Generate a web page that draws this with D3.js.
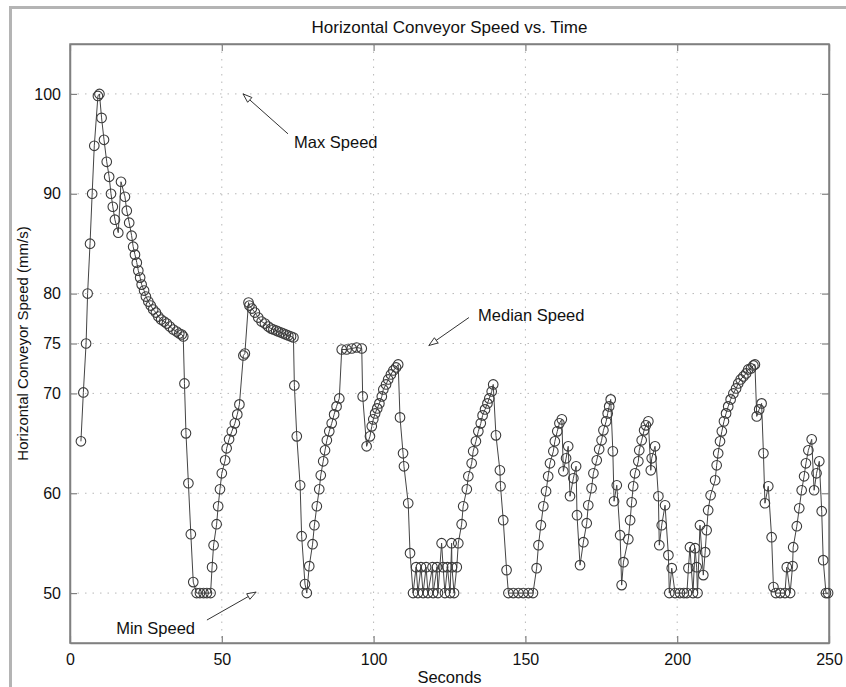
<!DOCTYPE html>
<html>
<head>
<meta charset="utf-8">
<script src="https://cdn.jsdelivr.net/npm/d3@7"></script>
<style>
  html, body { margin: 0; padding: 0; background: #fff; }
  svg { display: block; }
  text { font-family: "Liberation Sans", Arial, Helvetica, sans-serif; fill: #111; }
</style>
</head>
<body>
<svg id="chart" width="846" height="687"></svg>
<script>
// ---------- data ----------
const seconds = [
  3.6, 4.4, 5.3, 5.8, 6.6, 7.3, 8.0, 9.2, 9.7,
  10.4, 11.2, 12.1, 12.9, 13.5, 14.1, 14.8, 15.9,
  16.8, 18.1, 18.7, 19.5, 20.3, 20.8, 21.4, 22.0, 22.5, 23.1, 23.6, 24.4, 25.0, 25.8, 26.6, 27.4, 28.3, 29.1,
  30.0, 31.0, 31.9, 32.9, 34.0, 35.1, 36.0, 36.8, 37.3,
  37.7, 38.2, 39.0, 39.8, 40.6,
  41.7, 42.8, 44.0, 45.1, 46.3,
  46.8, 47.3, 48.3, 48.8, 49.4, 50.0, 51.1, 51.6, 52.4, 53.3, 54.3, 55.1, 55.8,
  57.1, 57.6, 58.8, 59.1,
  59.9, 60.9, 62.0, 63.1, 64.2, 65.3, 66.2, 67.0, 67.9, 68.6, 69.5, 70.3, 71.1, 71.9, 72.8, 73.6,
  73.9, 74.7, 75.8, 76.3, 77.4, 78.0,
  78.8, 79.9, 80.5, 81.3, 82.1, 82.6, 83.4, 84.0, 84.6, 85.4, 86.2, 87.0, 87.8, 88.7,
  89.5, 91.1, 92.8, 94.4, 96.1,
  96.4, 97.7,
  98.8, 99.4, 99.9, 100.5, 101.2, 101.9, 102.7, 103.2, 104.1, 104.8, 105.7, 106.5, 107.4, 108.1,
  108.7, 109.7, 110.0, 111.4, 112.0,
  113.0, 114.0, 114.6, 115.6, 116.3, 117.3, 117.9, 119.4, 119.6, 120.9, 121.2, 122.4, 122.9, 123.5, 124.3,
  125.2, 125.7, 125.8, 126.5, 127.4, 127.9,
  129.0, 129.5, 130.7, 131.2, 132.3, 132.8, 133.7, 134.5, 135.3, 135.9, 136.7, 137.5, 138.1, 138.9, 139.4,
  140.3, 141.6, 141.8, 142.7, 143.8,
  144.4, 146.0, 147.7, 149.3, 151.0, 152.5,
  153.7, 154.3, 155.1, 155.9, 156.8, 157.5, 158.1, 159.2, 159.7, 160.5, 161.2, 162.0,
  162.5, 163.4, 164.1, 164.7, 165.8, 166.7, 167.0, 168.0, 169.1,
  170.2, 170.7, 171.8, 172.4, 173.5, 174.3, 175.1, 175.7, 176.6, 177.1, 177.6, 178.1,
  178.8, 179.2, 180.1, 181.2, 181.7, 182.3,
  183.9, 184.5, 185.0, 185.5, 186.1, 187.2, 187.5, 188.3, 189.1, 189.7, 190.5,
  191.3, 191.6, 192.7, 193.8, 194.1, 194.9, 196.0, 197.1, 197.4, 198.2,
  199.3, 200.9, 202.2, 203.2, 203.7, 204.2, 205.2, 205.9, 206.4, 206.7, 207.5, 208.6, 209.2, 209.7,
  210.2, 211.0, 212.5, 213.0, 213.5, 214.1, 214.7, 215.4, 216.1, 216.8, 217.6, 218.5, 219.4, 220.1, 220.9,
  221.8, 222.7, 223.4, 224.3, 225.1, 225.6,
  226.2, 227.0, 227.8, 228.4, 228.9, 230.0, 231.1, 231.7,
  232.5, 233.9, 235.5, 236.1, 237.2, 238.0,
  238.2, 239.4, 240.2, 241.0, 241.8, 242.4, 243.2, 244.3,
  245.1, 245.9, 246.8, 247.6, 248.1, 249.0, 249.7
];
const speed = [
  65.2, 70.1, 75.0, 80.0, 85.0, 90.0, 94.8, 99.8, 100.0,
  97.6, 95.4, 93.2, 91.7, 90.0, 88.7, 87.4, 86.1,
  91.2, 89.7, 88.3, 87.1, 85.8, 84.7, 83.9, 83.1, 82.3, 81.6, 80.9, 80.3, 79.7, 79.2, 78.8, 78.4, 78.1, 77.7,
  77.4, 77.2, 77.0, 76.7, 76.4, 76.2, 76.0, 75.9, 75.7,
  71.0, 66.0, 61.0, 55.9, 51.1,
  50, 50, 50, 50, 50,
  52.6, 54.8, 56.9, 58.7, 60.4, 62.0, 63.3, 64.5, 65.4, 66.2, 67.0, 67.9, 68.9,
  73.8, 74.0, 79.1, 78.8,
  78.5, 78.1, 77.6, 77.2, 77.0, 76.7, 76.5, 76.4, 76.3, 76.2, 76.1, 76.0, 75.9, 75.8, 75.7, 75.6,
  70.8, 65.7, 60.8, 55.7, 50.9, 50.0,
  52.7, 54.9, 56.8, 58.7, 60.4, 61.8, 63.2, 64.3, 65.3, 66.2, 67.0, 67.9, 68.7, 69.5,
  74.4, 74.4, 74.5, 74.6, 74.5,
  69.7, 64.7,
  65.7, 66.7, 67.4, 68.0, 68.5, 69.0, 69.7, 70.4, 70.9, 71.4, 71.9, 72.3, 72.6, 72.9,
  67.6, 64.0, 62.7, 59.0, 54.0,
  50, 52.6, 50, 52.6, 50, 52.6, 50, 52.6, 50, 52.6, 50, 55.0, 52.6, 50, 52.6,
  50, 55.0, 52.6, 50, 52.6, 55.0,
  56.9, 58.7, 60.4, 61.7, 63.0, 64.2, 65.2, 66.2, 67.0, 67.8, 68.4, 69.0, 69.5, 70.2, 70.9,
  65.8, 62.3, 60.7, 57.3, 52.3,
  50, 50, 50, 50, 50, 50,
  52.5, 54.8, 56.8, 58.7, 60.2, 61.7, 63.0, 64.2, 65.2, 66.2, 67.0, 67.4,
  62.2, 63.5, 64.7, 59.7, 61.5, 62.7, 57.8, 52.8, 55.1,
  57.0, 58.8, 60.5, 62.0, 63.3, 64.4, 65.3, 66.3, 67.2, 68.0, 68.7, 69.4,
  64.2, 59.2, 60.8, 55.8, 50.8, 53.1,
  55.4, 57.3, 59.1, 60.7, 62.0, 63.2, 64.3, 65.3, 66.3, 66.8, 67.2,
  62.3, 63.5, 64.7, 59.7, 54.8, 56.8, 58.8, 53.8, 50.0, 52.5,
  50, 50, 50, 50, 52.5, 54.6, 50, 54.5, 52.6, 50, 56.8, 51.8, 54.1, 56.3,
  58.3, 59.8, 61.3, 62.8, 64.0, 65.2, 66.2, 67.2, 68.0, 68.7, 69.4, 70.0, 70.5, 71.0, 71.4,
  71.7, 72.0, 72.4, 72.5, 72.8, 72.9,
  67.7, 68.4, 69.0, 64.0, 59.0, 60.7, 55.6, 50.6,
  50, 50, 50, 52.6, 50, 52.7,
  54.6, 56.7, 58.5, 60.3, 61.7, 63.0, 64.3, 65.4,
  60.3, 62.0, 63.2, 58.2, 53.3, 50, 50
];
const xTicks = [0, 50, 100, 150, 200, 250];
const yTicks = [50, 60, 70, 75, 80, 90, 100];
const annotations = [
  { label: "Max Speed",    tx: 73.8, ty: 95.2, ax: 71.8,  ay: 96.0, hx: 57.0,  hy: 100.0 },
  { label: "Median Speed", tx: 134.4, ty: 77.8, ax: 131.4, ay: 77.6, hx: 118.2, hy: 74.8 },
  { label: "Min Speed",    tx: 15.2, ty: 46.5, ax: 45.1,  ay: 47.3, hx: 61.3,  hy: 50.1 }
];

// ---------- layout ----------
const svg = d3.select("#chart");
const m = { left: 70, top: 44, right: 829, bottom: 643 };
const x = d3.scaleLinear().domain([0, 250]).range([m.left, m.right]);
const y = d3.scaleLinear().domain([45, 105]).range([m.bottom, m.top]);

// window frame
svg.append("line").attr("x1", 10).attr("x2", 846).attr("y1", 7.5).attr("y2", 7.5)
  .attr("stroke", "#b4b4b4").attr("stroke-width", 3);
svg.append("line").attr("x1", 10.5).attr("x2", 10.5).attr("y1", 6).attr("y2", 687)
  .attr("stroke", "#b4b4b4").attr("stroke-width", 3);

// grid
const grid = svg.append("g");
grid.selectAll(".gx").data(xTicks.filter(d => d > 0 && d < 250)).join("line")
  .attr("x1", d => x(d)).attr("x2", d => x(d)).attr("y1", m.top).attr("y2", m.bottom)
  .attr("stroke", "#b8b8b8").attr("stroke-width", 1).attr("stroke-dasharray", "1.5,6");
grid.selectAll(".gy").data(yTicks).join("line")
  .attr("x1", m.left).attr("x2", m.right).attr("y1", d => y(d)).attr("y2", d => y(d))
  .attr("stroke", "#b8b8b8").attr("stroke-width", 1).attr("stroke-dasharray", "1.5,6");

// axes (ticks inside, Matlab-style)
const axisColor = "#808080";
const tk = 7;
const gxB = svg.append("g").attr("transform", `translate(0,${m.bottom})`)
  .call(d3.axisBottom(x).tickValues(xTicks).tickSizeInner(-tk).tickSizeOuter(0).tickPadding(11));
const gxT = svg.append("g").attr("transform", `translate(0,${m.top})`)
  .call(d3.axisTop(x).tickValues(xTicks).tickSizeInner(-tk).tickSizeOuter(0).tickFormat(""));
const gyL = svg.append("g").attr("transform", `translate(${m.left},0)`)
  .call(d3.axisLeft(y).tickValues(yTicks).tickSizeInner(-tk).tickSizeOuter(0).tickPadding(9));
const gyR = svg.append("g").attr("transform", `translate(${m.right},0)`)
  .call(d3.axisRight(y).tickValues(yTicks).tickSizeInner(-tk).tickSizeOuter(0).tickFormat(""));
[gxB, gxT, gyL, gyR].forEach(g => {
  g.select(".domain").attr("stroke", axisColor).attr("stroke-width", 1.5);
  g.selectAll(".tick line").attr("stroke", axisColor).attr("stroke-width", 1.2);
  g.selectAll(".tick text").attr("fill", "#111")
    .style("font-family", '"Liberation Sans", Arial, sans-serif').style("font-size", "16px");
});
svg.append("rect").attr("x", m.left).attr("y", m.top)
  .attr("width", m.right - m.left).attr("height", m.bottom - m.top)
  .attr("fill", "none").attr("stroke", axisColor).attr("stroke-width", 1.5);

// line + markers
const pts = seconds.map((s, i) => [s, speed[i]]);
svg.append("path").datum(pts)
  .attr("d", d3.line().x(d => x(d[0])).y(d => y(d[1])))
  .attr("fill", "none").attr("stroke", "#444").attr("stroke-width", 1);
svg.append("g").selectAll("circle").data(pts).join("circle")
  .attr("cx", d => x(d[0])).attr("cy", d => y(d[1])).attr("r", 4.8)
  .attr("fill", "none").attr("stroke", "#3a3a3a").attr("stroke-width", 1.1);

// annotations
annotations.forEach(a => {
  const x1 = x(a.ax), y1 = y(a.ay), x2 = x(a.hx), y2 = y(a.hy);
  svg.append("line").attr("x1", x1).attr("y1", y1).attr("x2", x2).attr("y2", y2)
    .attr("stroke", "#333").attr("stroke-width", 1);
  const ang = Math.atan2(y2 - y1, x2 - x1);
  const L = 9, W = 3.2;
  const bx = x2 - L * Math.cos(ang), by = y2 - L * Math.sin(ang);
  const px = -Math.sin(ang) * W, py = Math.cos(ang) * W;
  svg.append("path")
    .attr("d", `M${x2},${y2}L${bx + px},${by + py}L${bx - px},${by - py}Z`)
    .attr("fill", "#fff").attr("stroke", "#333").attr("stroke-width", 1);
  svg.append("text").attr("x", x(a.tx)).attr("y", y(a.ty)).attr("dy", "0.35em")
    .style("font-size", "16.5px").text(a.label);
});

// titles
svg.append("text").attr("x", (m.left + m.right) / 2).attr("y", 27).attr("text-anchor", "middle")
  .attr("dy", "0.35em").style("font-size", "17px").text("Horizontal Conveyor Speed vs. Time");
svg.append("text").attr("x", (m.left + m.right) / 2).attr("y", 677).attr("text-anchor", "middle")
  .attr("dy", "0.35em").style("font-size", "16.5px").text("Seconds");
svg.append("text").attr("transform", `translate(23,${(m.top + m.bottom) / 2}) rotate(-90)`)
  .attr("text-anchor", "middle").attr("dy", "0.35em").style("font-size", "15px")
  .text("Horizontal Conveyor Speed (mm/s)");
</script>
</body>
</html>
